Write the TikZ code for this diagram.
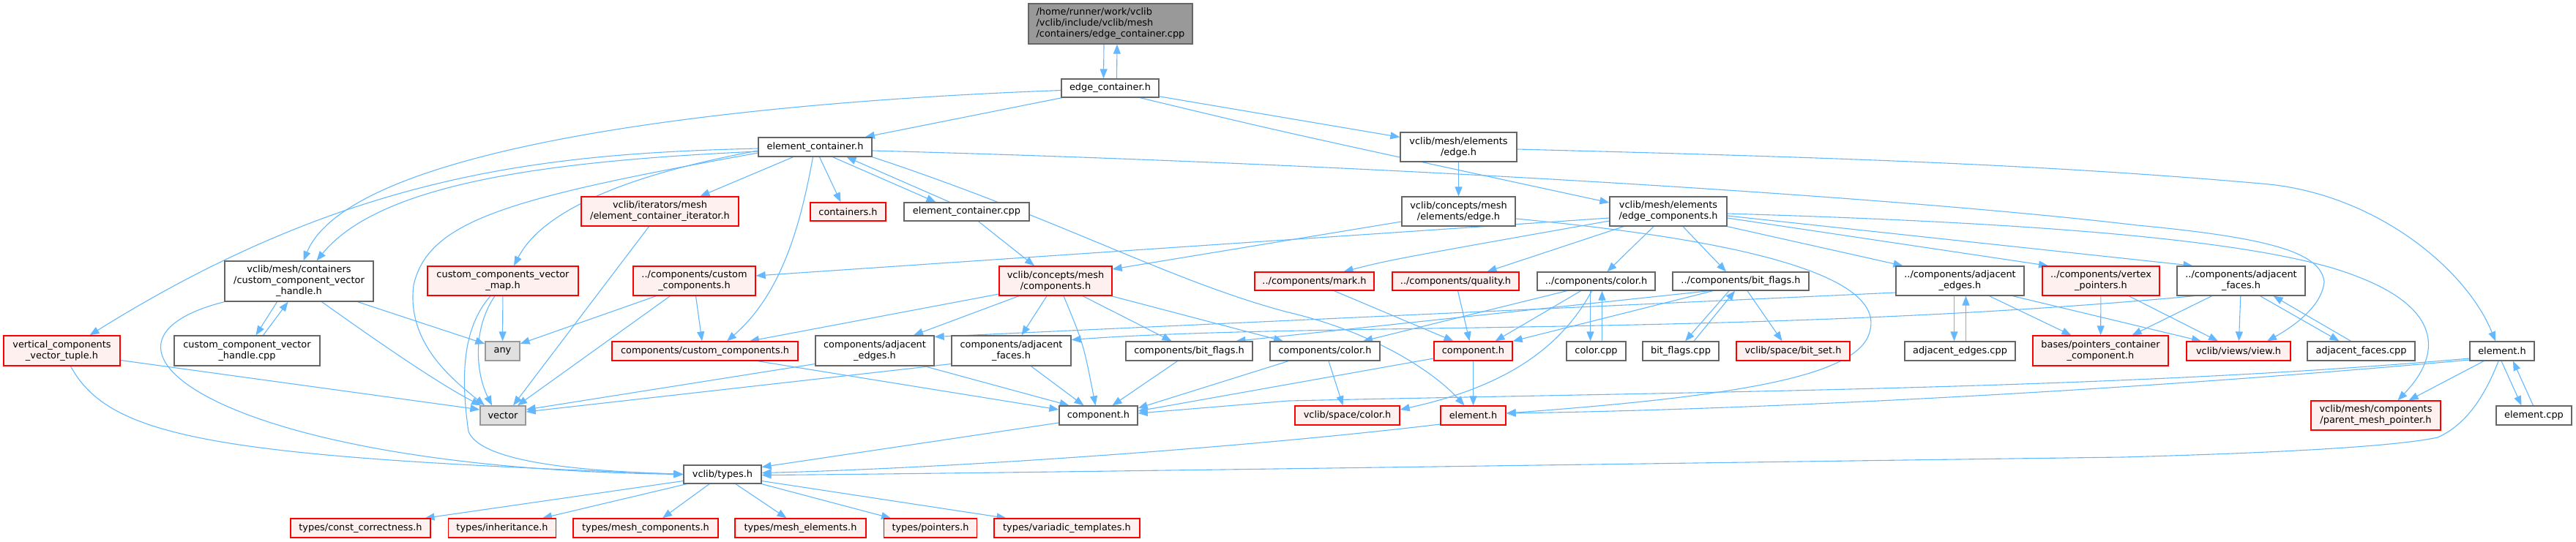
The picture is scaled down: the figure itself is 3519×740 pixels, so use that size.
\documentclass[tikz,border=0pt]{standalone}
\usepackage{fontspec}
\setmainfont{DejaVu Sans}
\usetikzlibrary{arrows.meta,backgrounds}
\definecolor{edgecol}{HTML}{63B8FF}
\definecolor{bordgray}{HTML}{666666}
\definecolor{redfill}{HTML}{FFF0F0}
\definecolor{extfill}{HTML}{E0E0E0}
\definecolor{extbord}{HTML}{999999}
\definecolor{mainfill}{HTML}{999999}
\tikzset{
  box/.style={draw=bordgray, fill=white, line width=1.3pt, inner sep=0pt, align=center,
              font=\fontsize{12.9}{15}\selectfont, text=black},
  mainbox/.style={box, fill=mainfill},
  redbox/.style={box, draw=red, fill=redfill},
  extbox/.style={box, draw=extbord, fill=extfill},
  dep/.style={draw=edgecol, line width=1.1pt, -{Triangle[length=13pt,width=10pt]}},
}
\begin{document}
\begin{tikzpicture}[x=1pt,y=-1pt]
\useasboundingbox (0,0) rectangle (3519,740);
% ---------- nodes ----------
\node[mainbox, minimum width=224pt, minimum height=55pt, align=left] (main) at (1517,32.5) {/home/runner/work/vclib\\/vclib/include/vclib/mesh\\/containers/edge\_container.cpp};
\node[box, minimum width=133pt, minimum height=25pt] (ec) at (1516.5,120.5) {edge\_container.h};
\node[box, minimum width=155pt, minimum height=26pt] (elc) at (1113.5,201) {element\_container.h};
\node[box, minimum width=203pt, minimum height=55pt] (ccvh) at (408.5,384.5) {vclib/mesh/containers\\/custom\_component\_vector\\\_handle.h};
\node[redbox, minimum width=159pt, minimum height=41pt] (vcvt) at (84.5,479.5) {vertical\_components\\\_vector\_tuple.h};
\node[box, minimum width=199pt, minimum height=41pt] (ccvhcpp) at (337.5,479.5) {custom\_component\_vector\\\_handle.cpp};
\node[redbox, minimum width=206pt, minimum height=40pt] (ccvm) at (687,384) {custom\_components\_vector\\\_map.h};
\node[redbox, minimum width=215pt, minimum height=40pt] (eci) at (901.5,289) {vclib/iterators/mesh\\/element\_container\_iterator.h};
\node[redbox, minimum width=103pt, minimum height=25pt] (cont) at (1158.5,289.5) {containers.h};
\node[box, minimum width=171pt, minimum height=25pt] (eccpp) at (1320.5,289.5) {element\_container.cpp};
\node[redbox, minimum width=167pt, minimum height=40pt] (ccc) at (948.5,384) {../components/custom\\\_components.h};
\node[redbox, minimum width=154pt, minimum height=40pt] (ccm) at (1442,384) {vclib/concepts/mesh\\/components.h};
\node[box, minimum width=159pt, minimum height=40pt] (edgeh) at (1992.5,201) {vclib/mesh/elements\\/edge.h};
\node[box, minimum width=155pt, minimum height=40pt] (cedge) at (1992.5,289) {vclib/concepts/mesh\\/elements/edge.h};
\node[box, minimum width=160pt, minimum height=40pt] (ecomp) at (2279,289) {vclib/mesh/elements\\/edge\_components.h};
\node[redbox, minimum width=163pt, minimum height=25pt] (mark) at (1795.5,384.5) {../components/mark.h};
\node[redbox, minimum width=173pt, minimum height=25pt] (quality) at (1988.5,384.5) {../components/quality.h};
\node[box, minimum width=161pt, minimum height=25pt] (ccolor) at (2180.5,384.5) {../components/color.h};
\node[box, minimum width=186pt, minimum height=25pt] (cbf) at (2378,384.5) {../components/bit\_flags.h};
\node[box, minimum width=175pt, minimum height=40pt] (cae) at (2677.5,384) {../components/adjacent\\\_edges.h};
\node[redbox, minimum width=160pt, minimum height=40pt] (cvp) at (2870,384) {../components/vertex\\\_pointers.h};
\node[box, minimum width=175pt, minimum height=40pt] (caf) at (3061.5,384) {../components/adjacent\\\_faces.h};
\node[extbox, minimum width=47pt, minimum height=26pt] (any) at (686.5,480) {any};
\node[redbox, minimum width=254pt, minimum height=26pt] (cc2) at (963,480) {components/custom\_components.h};
\node[box, minimum width=162pt, minimum height=41pt] (cae2) at (1195,479.5) {components/adjacent\\\_edges.h};
\node[box, minimum width=163pt, minimum height=41pt] (caf2) at (1381.5,479.5) {components/adjacent\\\_faces.h};
\node[box, minimum width=173pt, minimum height=26pt] (cbf2) at (1624.5,480) {components/bit\_flags.h};
\node[box, minimum width=150pt, minimum height=26pt] (ccol2) at (1810,480) {components/color.h};
\node[redbox, minimum width=107pt, minimum height=26pt] (compr) at (2012.5,480) {component.h};
\node[box, minimum width=81pt, minimum height=26pt] (colcpp) at (2180.5,480) {color.cpp};
\node[box, minimum width=104pt, minimum height=26pt] (bfcpp) at (2296,480) {bit\_flags.cpp};
\node[redbox, minimum width=155pt, minimum height=26pt] (bitset) at (2449.5,480) {vclib/space/bit\_set.h};
\node[box, minimum width=151pt, minimum height=26pt] (aecpp) at (2677.5,480) {adjacent\_edges.cpp};
\node[redbox, minimum width=185pt, minimum height=41pt] (pcc) at (2869.5,479.5) {bases/pointers\_container\\\_component.h};
\node[redbox, minimum width=142pt, minimum height=26pt] (view) at (3058,480) {vclib/views/view.h};
\node[box, minimum width=147pt, minimum height=26pt] (afcpp) at (3225.5,480) {adjacent\_faces.cpp};
\node[box, minimum width=88pt, minimum height=26pt] (elemg) at (3418,480) {element.h};
\node[extbox, minimum width=62pt, minimum height=26pt] (vector) at (687,568) {vector};
\node[box, minimum width=107pt, minimum height=26pt] (compg) at (1500.5,568) {component.h};
\node[redbox, minimum width=143pt, minimum height=26pt] (scolor) at (1840.5,568) {vclib/space/color.h};
\node[redbox, minimum width=89pt, minimum height=26pt] (elemr) at (2012.5,568) {element.h};
\node[redbox, minimum width=177pt, minimum height=40pt] (pmp) at (3245.5,568) {vclib/mesh/components\\/parent\_mesh\_pointer.h};
\node[box, minimum width=103pt, minimum height=26pt] (elcpp) at (3461.5,568) {element.cpp};
\node[box, minimum width=106pt, minimum height=25pt] (types) at (987,648.5) {vclib/types.h};
\node[redbox, minimum width=191pt, minimum height=26pt] (tcc) at (492.5,722) {types/const\_correctness.h};
\node[redbox, minimum width=147pt, minimum height=26pt] (tinh) at (686,722) {types/inheritance.h};
\node[redbox, minimum width=198pt, minimum height=26pt] (tmc) at (882,722) {types/mesh\_components.h};
\node[redbox, minimum width=179pt, minimum height=26pt] (tme) at (1093.5,722) {types/mesh\_elements.h};
\node[redbox, minimum width=127pt, minimum height=26pt] (tptr) at (1271,722) {types/pointers.h};
\node[redbox, minimum width=199pt, minimum height=26pt] (tvt) at (1457.5,722) {types/variadic\_templates.h};
% ---------- edges ----------
\begin{scope}[on background layer]
\draw[dep] ([xshift=-9pt]main.south) -- ([xshift=-9pt]ec.north);
\draw[dep] ([xshift=9pt]ec.north) -- ([xshift=9pt]main.south);
\draw[dep] (ec) -- (elc);
\draw[dep] ([yshift=-3pt]ec.west) .. controls (1000,140) and (480,200) .. ([xshift=6pt]ccvh.north);
\draw[dep] (ec) -- (edgeh);
\draw[dep] ([xshift=41pt]ec.south) .. controls (1750,180) .. ([yshift=12pt]ecomp.west);
% element_container.h
\draw[dep] ([yshift=-2pt]elc.west) .. controls (750,210) and (480,235) .. ([xshift=38pt]vcvt.north);
\draw[dep] ([yshift=-6pt]elc.west) .. controls (750,220) and (520,250) .. ([xshift=24pt]ccvh.north);
\draw[dep] ([yshift=-8pt]elc.west) .. controls (700,270) and (585,300) .. (565,390) .. controls (555,470) and (620,520) .. ([xshift=-25pt]vector.north);
\draw[dep] ([yshift=-5pt]elc.west) .. controls (850,240) and (740,290) .. ([xshift=15pt]ccvm.north);
\draw[dep] ([xshift=-30pt]elc.south) -- ([xshift=55pt]eci.north);
\draw[dep] ([xshift=6pt]elc.south) -- ([xshift=-10pt]cont.north);
\draw[dep] ([xshift=24pt]elc.south) -- ([xshift=-42pt]eccpp.north);
\draw[dep] ([xshift=-23pt]eccpp.north) -- ([xshift=43pt]elc.south);
\draw[dep] ([xshift=-3pt]elc.south) .. controls (1095,300) and (1070,400) .. ([xshift=30pt]cc2.north);
\draw[dep] (elc.south east) .. controls (1450,300) and (1600,385) .. (1760,427) .. controls (1880,455) and (1960,510) .. ([xshift=-12pt]elemr.north);
\draw[dep] ([yshift=-5pt]elc.east) .. controls (1900,225) and (2600,270) .. (2920,308) .. controls (3100,325) and (3170,345) .. (3175,385) .. controls (3172,420) and (3130,448) .. ([xshift=39pt]view.north);
\draw[dep] ([xshift=-15pt]eci.south) -- ([xshift=14pt]vector.north);
\draw[dep] ([xshift=16pt]eccpp.south) -- ([xshift=-29pt]ccm.north);
% custom_component_vector_handle
\draw[dep] ([xshift=-30pt]ccvh.south) -- ([xshift=12pt]ccvhcpp.north);
\draw[dep] ([xshift=22pt]ccvhcpp.north) -- ([xshift=-15pt]ccvh.south);
\draw[dep] ([xshift=80pt]ccvh.south) -- ([yshift=10pt]any.west);
\draw[dep] ([xshift=31pt]ccvh.south) .. controls (520,470) and (600,525) .. ([xshift=-30pt]vector.north);
\draw[dep] (ccvh.south west) .. controls (80,470) and (300,640) .. (types.west);
% vertical_components_vector_tuple
\draw[dep] ([yshift=-13pt]vcvt.east) -- ([yshift=8pt]vector.west);
\draw[dep] ([xshift=12pt]vcvt.south) .. controls (150,600) and (300,625) .. (types.west);
% custom_components_vector_map
\draw[dep] (ccvm) -- (any);
\draw[dep] ([xshift=-11pt]ccvm.south) .. controls (645,450) and (650,510) .. ([xshift=-15pt]vector.north);
\draw[dep] ([xshift=-17pt]ccvm.south) .. controls (630,450) and (630,520) .. (640,590) .. controls (660,640) and (850,645) .. (types.west);
% ../components/custom_components.h
\draw[dep] ([xshift=-52pt]ccc.south) -- ([yshift=10pt]any.east);
\draw[dep] ([xshift=-33pt]ccc.south) -- ([xshift=20pt]vector.north);
\draw[dep] ([xshift=2pt]ccc.south) -- ([xshift=-4pt]cc2.north);
% components/*
\draw[dep] ([xshift=72pt]cc2.south) -- ([yshift=8pt]compg.west);
\draw[dep] ([yshift=-18pt]cae2.west) -- ([yshift=8pt]vector.east);
\draw[dep] ([yshift=-18pt]caf2.west) -- ([yshift=5pt]vector.east);
\draw[dep] ([xshift=68pt]cae2.south) -- ([xshift=-40pt]compg.north);
\draw[dep] ([xshift=27pt]caf2.south) -- ([xshift=-20pt]compg.north);
\draw[dep] ([xshift=-16pt]cbf2.south) -- ([xshift=19pt]compg.north);
\draw[dep] ([xshift=11pt]ccm.south) .. controls (1480,470) .. ([xshift=-4pt]compg.north);
\draw[dep] ([xshift=-50pt]ccol2.south) -- ([yshift=10pt]compg.east);
\draw[dep] ([xshift=5pt]ccol2.south) -- ([xshift=-6pt]scolor.north);
\draw[dep] ([yshift=-10pt]compr.west) -- ([yshift=6pt]compg.east);
\draw[dep] ([yshift=-10pt]compg.west) -- ([yshift=10pt]types.east);
% vclib/concepts/mesh/components.h
\draw[dep] ([yshift=-18pt]ccm.west) -- ([xshift=61pt]cc2.north);
\draw[dep] ([xshift=-50pt]ccm.south) -- ([xshift=53pt]cae2.north);
\draw[dep] ([xshift=-12pt]ccm.south) -- ([xshift=14pt]caf2.north);
\draw[dep] ([xshift=37pt]ccm.south) -- ([xshift=-24pt]cbf2.north);
\draw[dep] ([xshift=76pt]ccm.south) -- ([xshift=-57pt]ccol2.north);
% edge.h (mesh / concepts)
\draw[dep] (edgeh) -- (cedge);
\draw[dep] ([yshift=-3pt]edgeh.east) .. controls (2500,215) and (2800,225) .. (3100,252) .. controls (3250,268) and (3370,370) .. ([xshift=-9pt]elemg.north);
\draw[dep] ([yshift=-14pt]cedge.west) -- ([yshift=16pt]ccm.east);
\draw[dep] ([yshift=-10pt]cedge.east) .. controls (2400,330) and (2570,380) .. (2555,450) .. controls (2545,510) and (2400,540) .. ([yshift=3pt]elemr.east);
% edge_components.h
\draw[dep] ([yshift=-9pt]ecomp.west) -- ([yshift=7pt]ccc.east);
\draw[dep] ([yshift=-13pt]ecomp.west) .. controls (1900,355) .. ([xshift=40pt]mark.north);
\draw[dep] ([xshift=-61pt]ecomp.south) -- ([xshift=43pt]quality.north);
\draw[dep] ([xshift=-20pt]ecomp.south) -- ([xshift=15pt]ccolor.north);
\draw[dep] ([xshift=20pt]ecomp.south) -- ([xshift=-20pt]cbf.north);
\draw[dep] (ecomp.south east) -- ([xshift=-78pt]cae.north);
\draw[dep] ([yshift=-9pt]ecomp.east) -- ([xshift=-72pt]cvp.north);
\draw[dep] ([yshift=-6pt]ecomp.east) -- ([xshift=-66pt]caf.north);
\draw[dep] ([yshift=-3pt]ecomp.east) .. controls (2800,305) and (3100,330) .. (3220,378) .. controls (3330,420) and (3340,480) .. ([xshift=30pt]pmp.north);
% ../components/color.h
\draw[dep] ([xshift=-40pt]ccolor.south) -- ([xshift=52pt]ccol2.north);
\draw[dep] ([xshift=-21pt]ccolor.south) -- ([xshift=30pt]compr.north);
\draw[dep] ([xshift=-8pt]ccolor.south) -- ([xshift=-8pt]colcpp.north);
\draw[dep] ([xshift=8pt]colcpp.north) -- ([xshift=8pt]ccolor.south);
\draw[dep] ([xshift=-6pt]ccolor.south) .. controls (2130,480) and (2050,530) .. ([yshift=8pt]scolor.east);
% ../components/bit_flags.h
\draw[dep] ([xshift=-38pt]cbf.south) -- (compr.north east);
\draw[dep] ([xshift=-43pt]cbf.south) -- ([xshift=64pt]cbf2.north);
\draw[dep] ([xshift=-16pt]cbf.south) -- ([xshift=6pt]bfcpp.north);
\draw[dep] ([xshift=18pt]bfcpp.north) -- ([xshift=-8pt]cbf.south);
\draw[dep] ([xshift=9pt]cbf.south) -- ([xshift=-15pt]bitset.north);
% component.h (red), mark, quality
\draw[dep] (compr) -- (elemr);
\draw[dep] ([xshift=3pt]quality.south) -- ([xshift=-5pt]compr.north);
\draw[dep] ([xshift=27pt]mark.south) -- ([xshift=-27pt]compr.north);
% element.h (red)
\draw[dep] ([yshift=-12pt]elemr.west) .. controls (1700,612) and (1300,640) .. ([yshift=2pt]types.east);
% element.h (gray)
\draw[dep] ([xshift=-5pt]elemg.south) .. controls (3395,540) and (3370,580) .. (3330,598) .. controls (3250,615) and (3000,622) .. (2900,625) .. controls (2500,630) and (1300,648) .. ([yshift=-1pt]types.east);
\draw[dep] ([yshift=-10pt]elemg.west) .. controls (2900,532) and (2340,535) .. (1760,548) -- ([yshift=3pt]compg.east);
\draw[dep] ([yshift=-12pt]elemg.west) .. controls (2900,535) and (2400,560) .. ([yshift=3pt]elemr.east);
\draw[dep] ([xshift=-25pt]elemg.south) -- ([xshift=45pt]pmp.north);
\draw[dep] ([xshift=-1pt]elemg.south) -- ([xshift=-17pt]elcpp.north);
\draw[dep] ([xshift=-1pt]elcpp.north) -- ([xshift=15pt]elemg.south);
% ../components/adjacent_edges.h
\draw[dep] ([yshift=-16pt]cae.west) -- ([yshift=19pt]cae2.east);
\draw[dep] ([xshift=-8pt]cae.south) -- ([xshift=-8pt]aecpp.north);
\draw[dep] ([xshift=8pt]aecpp.north) -- ([xshift=8pt]cae.south);
\draw[dep] ([xshift=40pt]cae.south) -- ([xshift=-40pt]pcc.north);
\draw[dep] ([xshift=72pt]cae.south) -- ([xshift=-51pt]view.north);
% ../components/vertex_pointers.h
\draw[dep] (cvp) -- (pcc);
\draw[dep] ([xshift=38pt]cvp.south) -- ([xshift=-28pt]view.north);
% ../components/adjacent_faces.h
\draw[dep] ([xshift=-64pt]caf.south) .. controls (2400,460) and (1800,440) .. ([yshift=15pt]caf2.east);
\draw[dep] ([xshift=-40pt]caf.south) -- ([xshift=43pt]pcc.north);
\draw[dep] (caf) -- (view);
\draw[dep] ([xshift=26pt]caf.south) -- ([xshift=-30pt]afcpp.north);
\draw[dep] ([xshift=-14pt]afcpp.north) -- ([xshift=44pt]caf.south);
% vclib/types.h
\draw[dep] ([yshift=-9pt]types.west) -- ([xshift=88pt]tcc.north);
\draw[dep] ([xshift=-49pt]types.south) -- ([xshift=55pt]tinh.north);
\draw[dep] ([xshift=-18pt]types.south) -- ([xshift=23pt]tmc.north);
\draw[dep] ([xshift=18pt]types.south) -- ([xshift=-19pt]tme.north);
\draw[dep] (types.south east) -- ([xshift=-54pt]tptr.north);
\draw[dep] ([yshift=-9pt]types.east) -- ([xshift=-83pt]tvt.north);
\end{scope}
\end{tikzpicture}
\end{document}
